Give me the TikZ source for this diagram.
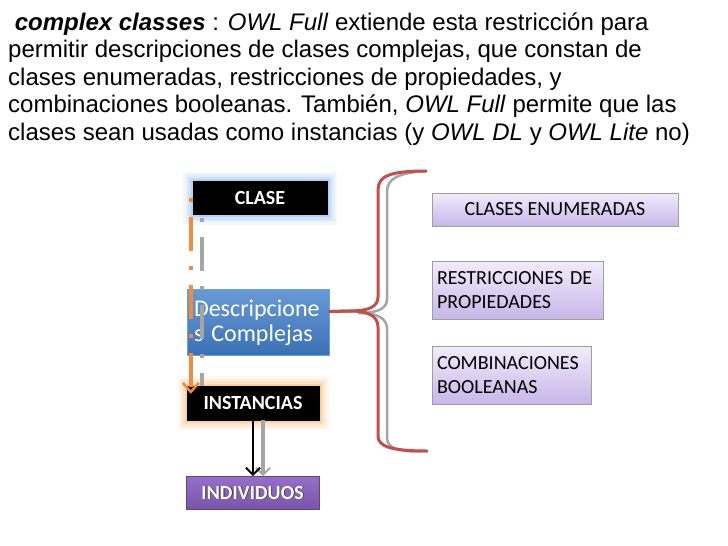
\documentclass[tikz,border=0pt]{standalone}
\usepackage{fontspec}
\setmainfont{Liberation Sans}
\newfontfamily\boxfont{Carlito}
\usetikzlibrary{arrows.meta,positioning}
\definecolor{oblue}{RGB}{66,128,204}
\definecolor{oblueline}{RGB}{110,160,220}
\definecolor{glowblue}{RGB}{120,170,235}
\definecolor{gloworange}{RGB}{247,170,90}
\definecolor{oorange}{RGB}{242,140,60}
\definecolor{opurple}{RGB}{122,84,170}
\definecolor{opurpletop}{RGB}{150,110,200}
\definecolor{lavtop}{RGB}{242,236,252}
\definecolor{lavbot}{RGB}{200,182,232}
\definecolor{ored}{RGB}{192,80,77}
\definecolor{oshadow}{RGB}{165,165,165}

\begin{document}
\begin{tikzpicture}[
  x=1pt,y=-1pt,
  txt/.style={anchor=base west,inner sep=0pt,font=\fontsize{24}{27.5}\selectfont},
  darkbox/.style={draw=black,fill=black,text=white,minimum width=132pt,minimum height=34pt,inner sep=0pt,
    font=\boxfont\bfseries\fontsize{20}{22}\selectfont},
  glow/.style={preaction={draw=#1,line width=20pt,opacity=.08,rounded corners=10pt},
    preaction={draw=#1,line width=15pt,opacity=.12,rounded corners=7pt},
    preaction={draw=#1,line width=10pt,opacity=.18,rounded corners=5pt},
    preaction={draw=#1,line width=5pt,opacity=.3,rounded corners=2pt}},
  lavbox/.style={draw=gray!75,line width=1pt,top color=lavtop,bottom color=lavbot,inner sep=0pt,
    font=\boxfont\fontsize{20}{24}\selectfont},
  brace/.style={draw=ored,line width=3pt,line cap=round},
  braceshadow/.style={draw=oshadow,line width=2.5pt,line cap=round},
  dashdot/.style={dash pattern=on 4pt off 15pt on 34pt off 15pt,line width=4pt},
  arr/.style={-{Straight Barb[length=7pt,width=14pt,line width=2pt]},line width=2.5pt}
]
\useasboundingbox (0,0) rectangle (728,546);

% text on top
\node[txt] (t1) at (8,30) {\ \textbf{\textit{complex classes}} : \textit{OWL Full} extiende esta restricción para};
\node[txt] (t2) at (8,57.5) {permitir descripciones de clases complejas, que constan de};
\node[txt] (t3) at (8,85) {clases enumeradas, restricciones de propiedades, y};
\node[txt] (t4) at (8,112.5) {combinaciones booleanas. También, \textit{OWL Full} permite que las};
\node[txt] (t5) at (8,140) {clases sean usadas como instancias (y \textit{OWL DL} y \textit{OWL Lite} no)};

% left column
\node[darkbox,glow=glowblue,minimum width=134pt,minimum height=33pt] (clase) at (260,198) {CLASE};
\node[draw=oblueline,line width=1pt,top color=oblue!80!white,bottom color=oblue!88!black,text=white,
  minimum width=142pt,minimum height=66pt,inner sep=0pt,text width=128pt,align=left,
  font=\boxfont\fontsize{24}{25}\selectfont] (desc) at (258,322.5) {\mbox{Descripcione}\\s Complejas};
\node[darkbox,glow=gloworange] (inst) at (253,403) {INSTANCIAS};
\node[draw=opurple!80!black,line width=1pt,top color=opurpletop,bottom color=opurple,text=white,
  minimum width=132pt,minimum height=32pt,inner sep=0pt,
  font=\boxfont\bfseries\fontsize{20}{22}\selectfont] (indiv) at (253,493)
  {\tikz[baseline]{\node[inner sep=0pt,anchor=base,text=black!80] at (0.8pt,-0.8pt) {INDIVIDUOS};
   \node[inner sep=0pt,anchor=base,text=white] at (0,0) {INDIVIDUOS};}};

% right column
\node[lavbox,minimum width=246pt,minimum height=33pt] (enum) at (555,209.5) {CLASES ENUMERADAS};
\node[lavbox,minimum width=171pt,minimum height=58pt,text width=161pt,align=left] (restr) at (517.5,290)
  {RESTRICCIONES DE\\PROPIEDADES};
\node[lavbox,minimum width=159pt,minimum height=58pt,text width=149pt,align=left] (comb) at (511.5,375)
  {COMBINACIONES\\BOOLEANAS};

% brace
\coordinate (btop) at (426,171);
\coordinate (bbot) at (427,451);
\coordinate (btip) at ([yshift=11pt]desc.east);
\begin{scope}[xshift=9pt,yshift=-2pt]
\draw[braceshadow] (btop) .. controls (390,171) and (378,176) .. (378,190) -- (378,297)
  .. controls (378,307) and (368,311) .. (350,311);
\draw[braceshadow] (350,311) .. controls (368,311) and (378,316) .. (378,327) -- (378,436)
  .. controls (378,446) and (390,451) .. (bbot);
\end{scope}
\draw[brace] (btop) .. controls (390,171) and (378,176) .. (378,190) -- (378,297)
  .. controls (378,307) and (368,311) .. (350,311) -- (btip);
\draw[brace] (btip) -- (350,311) .. controls (368,311) and (378,316) .. (378,327) -- (378,436)
  .. controls (378,446) and (390,451) .. (bbot);

% arrows on the left
\coordinate (gtop) at ([xshift=9pt,yshift=-3pt]clase.south west);
\draw[draw=oshadow,dashdot] (gtop) -- (gtop |- inst.north);
\coordinate (otop) at ([xshift=-2pt]clase.west);
\coordinate (otip) at ([xshift=3pt,yshift=-8pt]inst.north west);
\draw[draw=oorange,dashdot,-{Straight Barb[length=9pt,width=16pt,line width=2.5pt,sep=0pt]}]
  (otop) -- (otop |- otip);
\draw[oshadow,arr,line width=4pt] ([xshift=10pt]inst.south) -- ([xshift=10pt]indiv.north);
\draw[black,arr] (inst.south) -- (indiv.north);
\end{tikzpicture}
\end{document}
